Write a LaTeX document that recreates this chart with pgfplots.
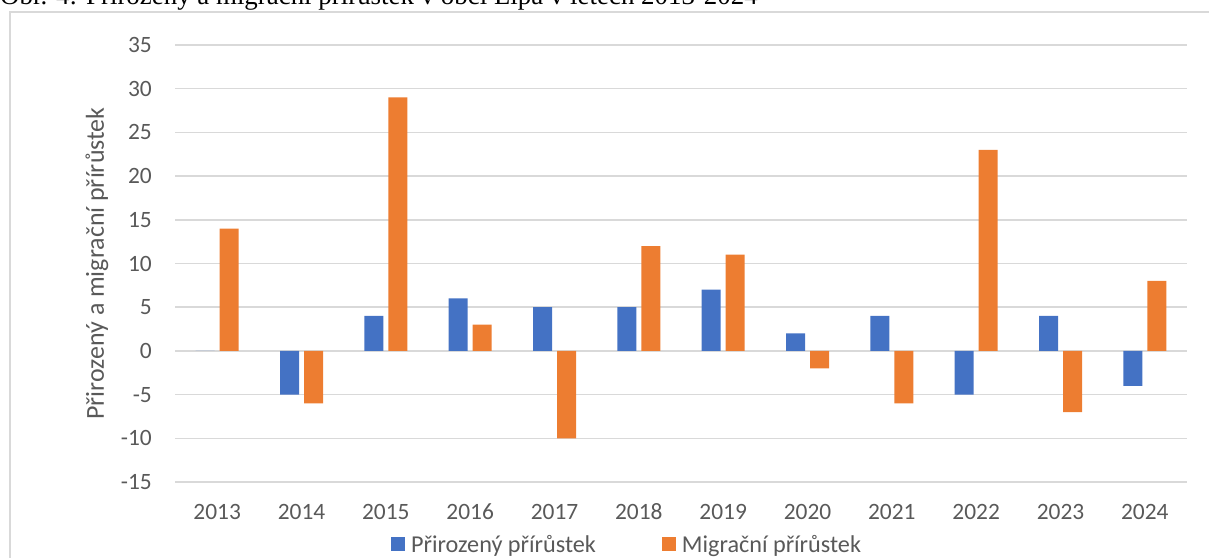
\documentclass[border=0pt]{standalone}
\usepackage{pgfplots}
\pgfplotsset{compat=1.18}
\usepackage{fontspec}
\setmainfont{Carlito}
\newfontfamily\titlefont{Liberation Serif}

\definecolor{xlblue}{HTML}{4472C4}
\definecolor{xlorange}{HTML}{ED7D31}
\definecolor{xlgrid}{HTML}{D9D9D9}
\definecolor{xltext}{HTML}{595959}

\begin{document}
\begin{tikzpicture}[x=1bp,y=1bp]
\useasboundingbox (0,0) rectangle (1209,558);
% chart frame (cut off at the right and bottom, like the screenshot)
\draw[xlgrid, line width=1.5bp] (10,-20) -- (10,546) -- (1230,546);
% caption, partly cut off at the top as in the screenshot
\node[anchor=base west, inner sep=0pt, font=\titlefont\fontsize{27}{30}\selectfont]
  at (0,553) {Obr. 4: Přirozený a migrační přírůstek v obci Lípa v letech 2013-2024};

\begin{axis}[
    at={(175bp,76bp)}, anchor=south west,
    scale only axis,
    width=1012bp, height=437bp,
    xmin=-0.5, xmax=11.5,
    ymin=-15, ymax=35,
    xtick={0,...,11},
    xticklabels={2013,2014,2015,2016,2017,2018,2019,2020,2021,2022,2023,2024},
    ytick={-15,-10,...,35},
    /pgf/number format/assume math mode=true,
    ymajorgrids,
    major grid style={xlgrid, line width=1.5bp},
    axis line style={draw=none},
    major tick length=0pt,
    tick style={draw=none},
    ticklabel style={font=\fontsize{23.5}{26}\selectfont, text=xltext},
    yticklabel style={inner sep=0pt, anchor=east, xshift=-23bp},
    xticklabel style={inner sep=0pt, anchor=base, yshift=-37.5bp},
    ylabel={Přirozený a migrační přírůstek},
    ylabel style={at={(axis description cs:-0.0771,0.5)}, anchor=center,
                  font=\fontsize{26}{28}\selectfont, text=xltext},
    legend columns=2,
    legend style={at={(0.2134,-0.1430)}, anchor=west, draw=none, fill=none,
        inner sep=0pt,
        nodes={inner sep=0pt, font=\fontsize{24.3}{27}\selectfont, text=xltext},
        /tikz/every odd column/.append style={column sep=6bp},
        /tikz/every even column/.append style={column sep=66bp}},
    legend image code/.code={\draw[#1, draw=none] (0bp,-7bp) rectangle (14bp,7bp);},
]
% Přirozený přírůstek
\addplot[ybar, bar width=19bp, bar shift=-12bp, fill=xlblue, draw=none] coordinates {
(0,0) (1,-5) (2,4) (3,6) (4,5) (5,5) (6,7) (7,2) (8,4) (9,-5) (10,4) (11,-4)
};
% Migrační přírůstek
\addplot[ybar, bar width=19bp, bar shift=12bp, fill=xlorange, draw=none] coordinates {
(0,14) (1,-6) (2,29) (3,3) (4,-10) (5,12) (6,11) (7,-2) (8,-6) (9,23) (10,-7) (11,8)
};
\legend{Přirozený přírůstek, Migrační přírůstek}
\end{axis}
\end{tikzpicture}
\end{document}
